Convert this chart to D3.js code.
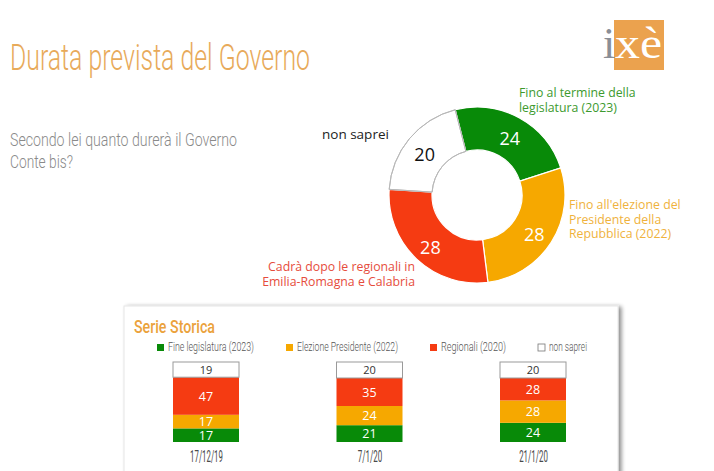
<!DOCTYPE html>
<html><head><meta charset="utf-8">
<script src="https://cdn.jsdelivr.net/npm/d3@7"></script>
<style>
html,body{margin:0;padding:0;background:#fff;}
svg{display:block;}
</style></head>
<body>
<svg id="c" width="714" height="471"></svg>
<script>
// ---- data ----
const donutCategories = ["Fino al termine della legislatura (2023)", "Fino all'elezione del Presidente della Repubblica (2022)", "Cadrà dopo le regionali in Emilia-Romagna e Calabria", "non saprei"];
const donutValues = [24, 28, 28, 20];
const seriesNames = ["Fine legislatura (2023)", "Elezione Presidente (2022)", "Regionali (2020)", "non saprei"];
const dates = ["17/12/19", "7/1/20", "21/1/20"];
const fineLegislatura = [17, 21, 24];
const elezionePresidente = [17, 24, 28];
const regionali = [47, 35, 28];
const nonSaprei = [19, 20, 20];

const colors = ["#088a08", "#f6a800", "#f53b12", "#ffffff"];
const labelColors = ["#3d9a2e", "#efb23c", "#e64c3c", "#222"];

const svg = d3.select("#c");
const defs = svg.append("defs");
const f = defs.append("filter").attr("id","sh").attr("x","-5%").attr("y","-10%").attr("width","115%").attr("height","130%");
f.append("feGaussianBlur").attr("in","SourceAlpha").attr("stdDeviation",2.2);
f.append("feOffset").attr("dx",3).attr("dy",1).attr("result","ob");
f.append("feComponentTransfer").append("feFuncA").attr("type","linear").attr("slope",0.45);
const fm = f.append("feMerge"); fm.append("feMergeNode"); fm.append("feMergeNode").attr("in","SourceGraphic");

// ---- title ----
svg.append("text").attr("x", 10).attr("y", 70)
  .attr("font-family", "Roboto, 'Open Sans', sans-serif").attr("font-weight", 300)
  .attr("font-size", 37).attr("fill", "#e8aa5a")
  .attr("textLength", 300).attr("lengthAdjust", "spacingAndGlyphs")
  .text("Durata prevista del Governo");

// subtitle
const sub = svg.append("g").attr("font-family", "Roboto, sans-serif").attr("font-weight", 300)
  .attr("font-size", 19).attr("fill", "#8a8a8a");
sub.append("text").attr("x", 10).attr("y", 146).attr("textLength", 227).attr("lengthAdjust","spacingAndGlyphs").text("Secondo lei quanto durerà il Governo");
sub.append("text").attr("x", 10).attr("y", 168).attr("textLength", 63).attr("lengthAdjust","spacingAndGlyphs").text("Conte bis?");

// ---- logo ----
const logo = svg.append("g");
logo.append("rect").attr("x", 614).attr("y", 20).attr("width", 50).attr("height", 50).attr("fill", "#eba24e");
logo.append("text").attr("x", 603).attr("y", 58).attr("font-family", "'Liberation Serif', serif").attr("font-size", 44).attr("fill", "#8a8e96").text("i");
logo.append("text").attr("x", 615).attr("y", 58).attr("font-family", "'Liberation Serif', serif").attr("font-size", 44).attr("fill", "#fff").attr("textLength", 47).attr("lengthAdjust","spacingAndGlyphs").text("xè");

// ---- donut ----
const cx = 477, cy = 195, rOut = 88, rIn = 45;
const pie = d3.pie().sort(null).startAngle(-0.25).endAngle(-0.25 + 2 * Math.PI);
const arcs = pie(donutValues);
const arc = d3.arc().innerRadius(rIn).outerRadius(rOut);
const dg = svg.append("g").attr("transform", `translate(${cx},${cy})`);
dg.selectAll("path").data(arcs).join("path")
  .attr("d", arc)
  .attr("fill", (d, i) => colors[i])
  .attr("stroke", (d, i) => i === 3 ? "#b8b8b8" : "#ffffff")
  .attr("stroke-width", (d, i) => i === 3 ? 1 : 1.2);
dg.append("path").datum(arcs[3]).attr("d", arc).attr("fill", "none").attr("stroke", "#b8b8b8").attr("stroke-width", 1);
const lab = d3.arc().innerRadius(68).outerRadius(68);
dg.selectAll("text.v").data(arcs).join("text").attr("class", "v")
  .attr("transform", d => { const c = lab.centroid(d); return `translate(${c[0]},${c[1] + 3})`; })
  .attr("text-anchor", "middle").attr("dy", "0.36em")
  .attr("font-family", "'Open Sans', sans-serif").attr("font-size", 18)
  .attr("fill", (d, i) => i === 3 ? "#111" : "#fff")
  .text(d => d.data);

// donut category labels
const lf = "'Open Sans', 'Noto Sans', sans-serif";
function mlabel(lines, x, y, anchor, color, lh, fs) {
  const t = svg.append("text").attr("font-family", lf).attr("font-size", fs).attr("fill", color).attr("text-anchor", anchor);
  lines.forEach((l, i) => t.append("tspan").attr("x", x).attr("y", y + i * lh).text(l));
}
mlabel(["Fino al termine della", "legislatura (2023)"], 519, 97, "start", labelColors[0], 14.5, 12.3);
mlabel(["Fino all'elezione del", "Presidente della", "Repubblica (2022)"], 569, 209, "start", labelColors[1], 14.5, 12.3);
mlabel(["Cadrà dopo le regionali in", "Emilia-Romagna e Calabria"], 415, 271, "end", labelColors[2], 15, 12.3);
mlabel(["non saprei"], 322, 139, "start", "#222", 14, 13.5);

// ---- serie storica panel ----
svg.append("rect").attr("x", 124).attr("y", 306).attr("width", 494).attr("height", 180)
  .attr("fill", "#fff").attr("stroke", "#e6e6e6").attr("stroke-width", 1).attr("filter", "url(#sh)");
svg.append("text").attr("x", 134).attr("y", 333)
  .attr("font-family", "Roboto, sans-serif").attr("font-weight", 500).attr("font-size", 18)
  .attr("fill", "#eba23c").attr("textLength", 81).attr("lengthAdjust","spacingAndGlyphs").text("Serie Storica");

// legend
const legX = [157, 286, 430, 538];
const legW = [86, 101, 65, 38];
const lg = svg.append("g");
seriesNames.forEach((n, i) => {
  lg.append("rect").attr("x", legX[i]).attr("y", 344).attr("width", 7).attr("height", 7)
    .attr("fill", colors[i]).attr("stroke", i === 3 ? "#777" : "none").attr("stroke-width", 0.8);
  lg.append("text").attr("x", legX[i] + 11).attr("y", 351)
    .attr("font-family", "Roboto, sans-serif").attr("font-weight", 300).attr("font-size", 12).attr("fill", "#555")
    .attr("textLength", legW[i]).attr("lengthAdjust","spacingAndGlyphs").text(n);
});

// stacked bars
const series = [fineLegislatura, elezionePresidente, regionali, nonSaprei];
const rows = dates.map((d, j) => ({ date: d, v: series.map(s => s[j]) }));
const stackData = rows.map(r => { const o = { date: r.date }; seriesNames.forEach((n, i) => o[n] = r.v[i]); return o; });
const stack = d3.stack().keys(seriesNames)(stackData);
const x = d3.scalePoint().domain(dates).range([206, 533]);
const y = d3.scaleLinear().domain([0, 100]).range([442, 362]);
const bw = 66;
const bg = svg.append("g");
stack.forEach((layer, i) => {
  const g = bg.append("g");
  g.selectAll("rect").data(layer).join("rect")
    .attr("x", d => x(d.data.date) - bw / 2).attr("width", bw)
    .attr("y", d => y(d[1])).attr("height", d => y(d[0]) - y(d[1]))
    .attr("fill", colors[i]).attr("stroke", i === 3 ? "#9a9a9a" : "none").attr("stroke-width", 1);
  g.selectAll("text").data(layer).join("text")
    .attr("x", d => x(d.data.date)).attr("y", d => (y(d[0]) + y(d[1])) / 2)
    .attr("dy", "0.36em").attr("text-anchor", "middle")
    .attr("font-family", "'Open Sans', sans-serif").attr("font-size", i === 3 ? 11 : 12.5)
    .attr("fill", i === 3 ? "#333" : "#fff")
    .text(d => d[1] - d[0]);
});
// x axis labels
const xa = svg.append("g").attr("transform", "translate(0,451)")
  .call(d3.axisBottom(x).tickSize(0).tickPadding(0));
xa.select(".domain").remove();
xa.selectAll(".tick text").attr("font-family", "Roboto, sans-serif").attr("font-weight", 400)
  .attr("font-size", 16).attr("fill", "#4a4a4a").attr("dy", "0.71em")
  .attr("textLength", d => d.length * 4.1).attr("lengthAdjust", "spacingAndGlyphs");
</script>
</body></html>
